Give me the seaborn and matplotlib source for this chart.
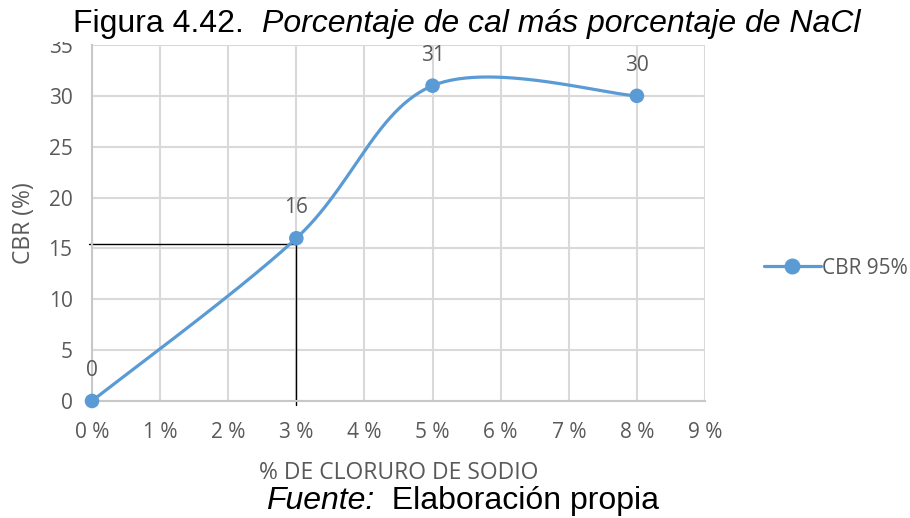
import numpy as np
import pandas as pd
import matplotlib
matplotlib.use("Agg")
import matplotlib.pyplot as plt
from matplotlib.lines import Line2D
from matplotlib.patches import Rectangle
import seaborn as sns

# --- data ---
nacl_pct = [0, 3, 5, 8]          # % de cloruro de sodio
cbr_95 = [0, 16, 31, 30]          # CBR (%) at 95 %
series_name = "CBR 95%"
x_ticks = list(range(0, 10))
y_ticks = list(range(0, 36, 5))

# reading guide drawn on the chart (value read at 3 %)
guide_x = 3
guide_y = 15.4

BLUE = "#5B9BD5"
GRID = "#D9D9D9"
TXT = "#595959"


def excel_smooth(xs, ys, n=60):
    # Bezier curve through the points, control points as in Excel's smoothed line
    xs, ys = np.asarray(xs, float), np.asarray(ys, float)
    px = np.r_[xs[0], xs, xs[-1]]
    py = np.r_[ys[0], ys, ys[-1]]
    out_x, out_y = [], []
    t = np.linspace(0, 1, n)
    for i in range(1, len(px) - 2):
        x0, x1, x2, x3 = px[i - 1:i + 3]
        y0, y1, y2, y3 = py[i - 1:i + 3]
        cx1, cy1 = x1 + (x2 - x0) / 6, y1 + (y2 - y0) / 6
        cx2, cy2 = x2 - (x3 - x1) / 6, y2 - (y3 - y1) / 6
        b0, b1, b2, b3 = (1 - t) ** 3, 3 * (1 - t) ** 2 * t, 3 * (1 - t) * t ** 2, t ** 3
        out_x.append(b0 * x1 + b1 * cx1 + b2 * cx2 + b3 * x2)
        out_y.append(b0 * y1 + b1 * cy1 + b2 * cy2 + b3 * y2)
    return np.concatenate(out_x), np.concatenate(out_y)


def text_run(fig, x_px, base_px, parts, size, family):
    # write (text, style) pieces one after another on the same baseline
    r = fig.canvas.get_renderer()
    x = x_px
    for s, style in parts:
        t = fig.text(x / 910, 1 - base_px / 518, s, fontsize=size, family=family,
                     style=style, ha="left", va="baseline", color="black",
                     zorder=4)
        x = t.get_window_extent(renderer=r).x1


sns.set_theme(style="white")
plt.rcParams["font.family"] = ["Open Sans", "DejaVu Sans"]

df = pd.DataFrame({"x": nacl_pct, "y": cbr_95})
sx, sy = excel_smooth(nacl_pct, cbr_95)
smooth = pd.DataFrame({"x": sx, "y": sy})

fig = plt.figure(figsize=(9.1, 5.18), dpi=100)
ax = fig.add_axes([92 / 910, 1 - 401 / 518, (705 - 92) / 910, (401 - 45) / 518])

sns.lineplot(data=smooth, x="x", y="y", ax=ax, color=BLUE, lw=2.3,
             sort=False, estimator=None, zorder=3)
sns.scatterplot(data=df, x="x", y="y", ax=ax, color=BLUE, s=110,
                edgecolor="none", zorder=4, clip_on=False)

for xv, yv in zip(nacl_pct, cbr_95):
    ax.annotate(f"{yv}", (xv, yv), xytext=(0, 22), textcoords="offset points",
                ha="center", va="center", fontsize=15, color=TXT, zorder=5)

# reading guide lines
ax.plot([-0.045, guide_x], [guide_y, guide_y], color="black", lw=1.0,
        clip_on=False, zorder=2)
ax.plot([guide_x, guide_x], [guide_y, -0.4], color="black", lw=1.0,
        clip_on=False, zorder=2)

ax.set_xlim(0, 9)
ax.set_ylim(0, 35)
ax.set_xticks(x_ticks)
ax.set_xticklabels([f"{v} %" for v in x_ticks])
ax.set_yticks(y_ticks)
ax.grid(True, color=GRID, lw=1.5)
ax.set_axisbelow(True)
for side in ["top", "right"]:
    ax.spines[side].set_visible(False)
for side in ["left", "bottom"]:
    ax.spines[side].set_color("#C8C8C8")
    ax.spines[side].set_linewidth(1.5)
ax.tick_params(axis="both", length=0, labelsize=15, colors=TXT)
ax.tick_params(axis="x", pad=15)
ax.tick_params(axis="y", pad=14)
ax.set_xlabel("% DE CLORURO DE SODIO", fontsize=16.5, color=TXT, labelpad=13)
ax.set_ylabel("CBR (%)", fontsize=16.5, color=TXT, labelpad=9)

handle = Line2D([], [], color=BLUE, lw=2.3, marker="o", markersize=10.5)
fig.legend([handle], [series_name], loc="center left",
           bbox_to_anchor=(745 / 910, 1 - 268 / 518), frameon=False,
           handlelength=2.75, handletextpad=0.05, fontsize=15,
           labelcolor=TXT)

# caption box above the chart (it hides the top of the "35" label)
fig.patches.append(Rectangle((30 / 910, 1 - 42 / 518), 850 / 910, 42 / 518,
                             transform=fig.transFigure, facecolor="white",
                             edgecolor="none", zorder=3))

# title and source lines
arial = ["Liberation Sans", "DejaVu Sans"]
text_run(fig, 73, 32, [("Figura 4.42.  ", "normal"),
                       ("Porcentaje de cal más porcentaje de NaCl", "italic")],
         23, arial)
text_run(fig, 266, 509, [("Fuente:", "italic"), ("  Elaboración propia", "normal")],
         23, arial)

fig.savefig("out.png", dpi=100)
